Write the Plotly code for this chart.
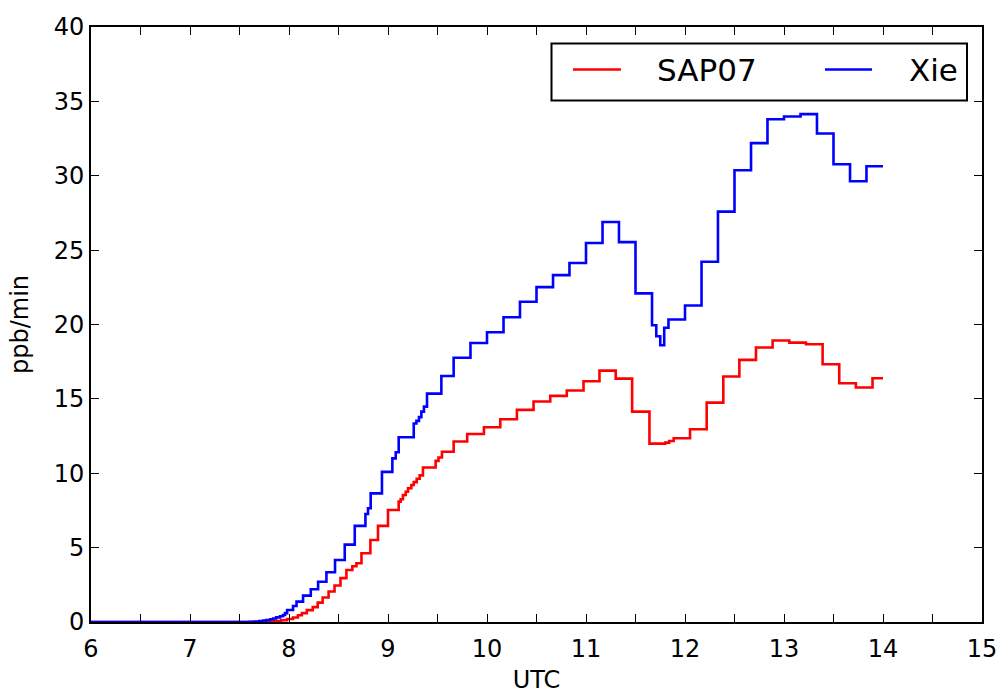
import plotly.graph_objects as go

# Step series: each level holds from its start time (UTC hours) until the next start
xie_t = [6.0, 7.60, 7.65, 7.70, 7.74, 7.77, 7.81, 7.84, 7.87, 7.91, 7.94, 7.96, 7.981,
         8.041, 8.076, 8.142, 8.220, 8.294, 8.378, 8.465, 8.563, 8.664, 8.772, 8.798,
         8.825, 8.939, 9.044, 9.078, 9.108, 9.260, 9.287, 9.313, 9.337, 9.363, 9.394,
         9.539, 9.663, 9.833, 10.0, 10.167, 10.333, 10.5, 10.667, 10.833, 11.0, 11.167,
         11.333, 11.5, 11.667, 11.71, 11.75, 11.79, 11.833, 12.0, 12.167, 12.333, 12.5,
         12.667, 12.833, 13.0, 13.167, 13.333, 13.5, 13.667, 13.833]
xie_v = [0.0, 0.01, 0.03, 0.06, 0.09, 0.13, 0.18, 0.24, 0.31, 0.39, 0.47, 0.6, 0.81,
         1.08, 1.37, 1.77, 2.2, 2.71, 3.34, 4.17, 5.2, 6.46, 7.26, 7.65,
         8.65, 10.09, 11.0, 11.41, 12.42, 13.34, 13.52, 13.77, 14.14, 14.48, 15.35,
         16.54, 17.76, 18.76, 19.48, 20.49, 21.53, 22.51, 23.32, 24.13, 25.48, 26.89,
         25.54, 22.09, 19.95, 19.21, 18.61, 19.78, 20.34, 21.28, 24.22, 27.59, 30.37,
         32.19, 33.8, 33.98, 34.14, 32.84, 30.77, 29.63, 30.64]

sap_t = [6.0, 7.70, 7.78, 7.85, 7.92, 7.98, 8.04, 8.09, 8.13, 8.18, 8.24, 8.29, 8.34,
         8.40, 8.46, 8.52, 8.58, 8.64, 8.681, 8.732, 8.822, 8.899, 9.0, 9.108, 9.128,
         9.151, 9.179, 9.202, 9.236, 9.26, 9.29, 9.32, 9.353, 9.481, 9.51, 9.545, 9.663,
         9.80, 9.969, 10.134, 10.302, 10.47, 10.639, 10.806, 10.975, 11.136, 11.30,
         11.466, 11.641, 11.80, 11.84, 11.886, 12.051, 12.219, 12.387, 12.549, 12.717,
         12.885, 13.054, 13.222, 13.390, 13.558, 13.726, 13.894]
sap_v = [0.0, 0.01, 0.03, 0.07, 0.12, 0.2, 0.3, 0.45, 0.6, 0.8, 1.0, 1.3, 1.65,
         2.05, 2.45, 2.95, 3.5, 3.75, 3.95, 4.62, 5.51, 6.46, 7.53, 8.09, 8.25,
         8.54, 8.76, 8.99, 9.21, 9.40, 9.63, 9.86, 10.39, 10.83, 11.06, 11.45, 12.13,
         12.64, 13.09, 13.63, 14.26, 14.82, 15.20, 15.56, 16.18, 16.90, 16.36,
         14.14, 11.99, 12.06, 12.17, 12.35, 12.96, 14.75, 16.50, 17.62, 18.45,
         18.92, 18.78, 18.67, 17.33, 16.05, 15.76, 16.39]

end_time = 14.0

x_ticks = [6 + 0.5 * i for i in range(19)]
x_labels = [str(int(v)) if v == int(v) else "" for v in x_ticks]
y_ticks = [0, 5, 10, 15, 20, 25, 30, 35, 40]

series = [
    ("SAP07", sap_t, sap_v, "#ff0000"),
    ("Xie", xie_t, xie_v, "#0000ff"),
]

FONT = "DejaVu Sans, Verdana, sans-serif"
TICK_SIZE = 24
W, H = 1006, 694
L, R, T, B = 91, 24, 27, 72

fig = go.Figure()
for name, t, v, color in series:
    fig.add_trace(go.Scatter(
        x=list(t) + [end_time], y=list(v) + [v[-1]],
        mode="lines", line=dict(color=color, width=2.6, shape="hv"),
        name=name, showlegend=False,
    ))

# Legend box drawn in pixel space converted to paper fractions
pw, ph = W - L - R, H - T - B


def px(xp):
    return (xp - L) / pw


def py(yp):
    return (H - B - yp) / ph


shapes = [dict(type="rect", xref="paper", yref="paper",
               x0=px(551.5), x1=px(967), y0=py(100.5), y1=py(43.5),
               line=dict(color="black", width=2), fillcolor="white", layer="above")]
legend_items = [(573, 621, 655, "SAP07", "#ff0000"), (825, 872, 907, "Xie", "#0000ff")]
annotations = []
for x0, x1, xt, label, color in legend_items:
    shapes.append(dict(type="line", xref="paper", yref="paper",
                       x0=px(x0), x1=px(x1), y0=py(69.5), y1=py(69.5),
                       line=dict(color=color, width=2.6), layer="above"))
    annotations.append(dict(xref="paper", yref="paper", x=px(xt), y=py(70),
                            xanchor="left", yanchor="middle", text=label,
                            showarrow=False, font=dict(family=FONT, size=31, color="black")))

axis_common = dict(
    showline=True, linecolor="black", linewidth=2, mirror="allticks",
    ticks="inside", ticklen=8, tickwidth=1.4, tickcolor="black",
    showgrid=False, zeroline=False, automargin=False,
    tickfont=dict(family=FONT, size=TICK_SIZE, color="black"),
)

fig.update_layout(
    width=W, height=H, autosize=False,
    margin=dict(l=L, r=R, t=T, b=B, pad=0),
    paper_bgcolor="white", plot_bgcolor="white",
    shapes=shapes, annotations=annotations,
    xaxis=dict(range=[6, 15], tickmode="array", tickvals=x_ticks, ticktext=x_labels,
               ticklabelstandoff=4,
               title=dict(text="UTC", font=dict(family=FONT, size=TICK_SIZE, color="black"), standoff=16),
               **axis_common),
    yaxis=dict(range=[0, 40], tickmode="array", tickvals=y_ticks,
               ticktext=[str(v) for v in y_ticks],
               title=dict(text="ppb/min", font=dict(family=FONT, size=TICK_SIZE, color="black"), standoff=18),
               **axis_common),
)

fig.write_html("out.html")
